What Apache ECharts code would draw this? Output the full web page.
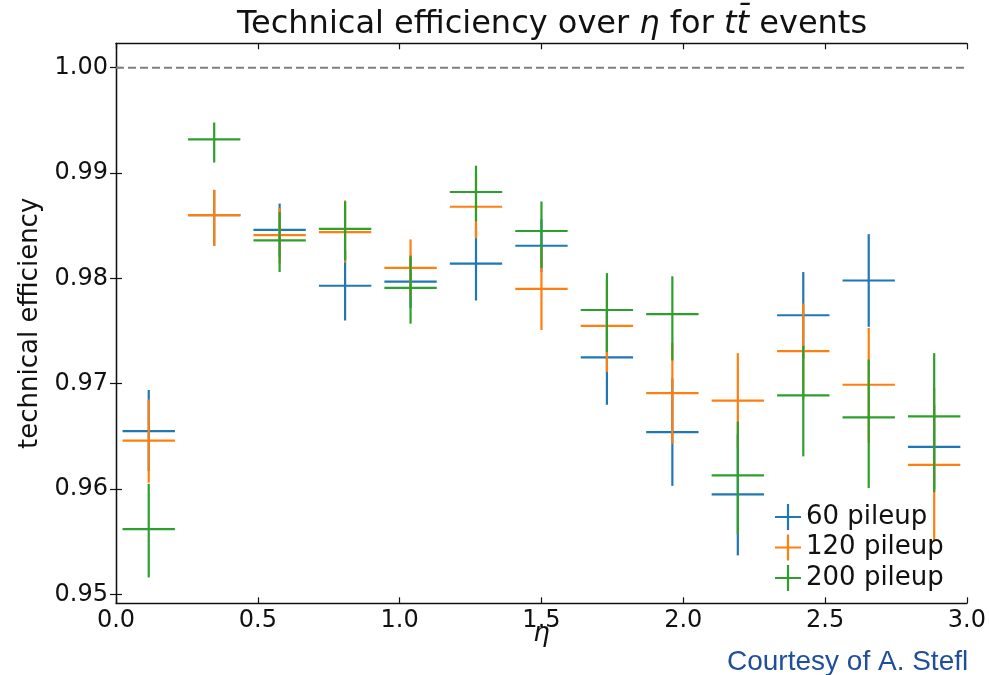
<!DOCTYPE html>
<html>
<head>
<meta charset="utf-8">
<script src="https://cdn.jsdelivr.net/npm/echarts@6/dist/echarts.min.js"></script>
<style>html,body{margin:0;padding:0;background:#fff}#c{width:989px;height:675px}</style>
</head>
<body>
<div id="c"></div>
<script>
// ---- data ----
const etaCenters = [0.1154, 0.3462, 0.5769, 0.8077, 1.0385, 1.2692, 1.5, 1.7308, 1.9615, 2.1923, 2.4231, 2.6538, 2.8846];
const etaHalfWidth = 0.0923;

const pu60 = [0.9655, 0.9860, 0.9846, 0.9793, 0.9797, 0.9814, 0.9831, 0.9725, 0.9654, 0.9595, 0.9765, 0.9798, 0.9640];
const pu60Upper = [0.9694, 0.9884, 0.9871, 0.9826, 0.9822, 0.9849, 0.9856, 0.9770, 0.9705, 0.9652, 0.9806, 0.9842, 0.9680];
const pu60Lower = [0.9617, 0.9831, 0.9820, 0.9760, 0.9772, 0.9779, 0.9806, 0.9680, 0.9603, 0.9537, 0.9724, 0.9754, 0.9600];

const pu120 = [0.9646, 0.9860, 0.9841, 0.9844, 0.9810, 0.9868, 0.9790, 0.9755, 0.9691, 0.9684, 0.9731, 0.9699, 0.9623];
const pu120Upper = [0.9685, 0.9884, 0.9867, 0.9874, 0.9837, 0.9899, 0.9829, 0.9798, 0.9739, 0.9729, 0.9776, 0.9753, 0.9696];
const pu120Lower = [0.9606, 0.9831, 0.9814, 0.9815, 0.9782, 0.9838, 0.9751, 0.9711, 0.9643, 0.9639, 0.9685, 0.9644, 0.9550];

const pu200 = [0.9562, 0.9932, 0.9836, 0.9847, 0.9791, 0.9882, 0.9845, 0.9770, 0.9766, 0.9613, 0.9689, 0.9668, 0.9669];
const pu200Upper = [0.9605, 0.9948, 0.9863, 0.9873, 0.9821, 0.9907, 0.9873, 0.9805, 0.9802, 0.9664, 0.9736, 0.9723, 0.9729];
const pu200Lower = [0.9516, 0.9910, 0.9806, 0.9817, 0.9757, 0.9854, 0.9810, 0.9730, 0.9722, 0.9557, 0.9631, 0.9601, 0.9597];

const seriesNames = ['60 pileup', '120 pileup', '200 pileup'];
const yTicks = [0.95, 0.96, 0.97, 0.98, 0.99, 1.00];
const referenceLevel = 1.00;

// ---- chart ----
const FONT = 'DejaVu Sans';
const colors = ['#1f77b4', '#ff7f0e', '#2ca02c'];
const chart = echarts.init(document.getElementById('c'), null, {renderer: 'canvas'});

function rows(vals, lo, hi) {
  return etaCenters.map((x, i) => [x, vals[i], lo[i], hi[i]]);
}

function errRender(color) {
  return function (params, api) {
    const x = api.value(0), y = api.value(1), lo = api.value(2), hi = api.value(3);
    const pc = api.coord([x, y]);
    const pl = api.coord([x - etaHalfWidth, y]);
    const pr = api.coord([x + etaHalfWidth, y]);
    const pt = api.coord([x, hi]);
    const pb = api.coord([x, lo]);
    const st = {stroke: color, lineWidth: 2.2, fill: null};
    return {
      type: 'group',
      children: [
        {type: 'line', shape: {x1: pl[0], y1: pc[1], x2: pr[0], y2: pc[1]}, style: st},
        {type: 'line', shape: {x1: pc[0], y1: pt[1], x2: pc[0], y2: pb[1]}, style: st}
      ]
    };
  };
}

const datasets = [
  rows(pu60, pu60Lower, pu60Upper),
  rows(pu120, pu120Lower, pu120Upper),
  rows(pu200, pu200Lower, pu200Upper)
];

const plusIcon = 'path://M0,11.9H26V14.1H0Z M11.9,0H14.1V26H11.9Z';

const axisLineStyle = {color: '#111', width: 1.3};

const option = {
  animation: false,
  backgroundColor: '#fff',
  title: [
    {
      text: '{n|Technical efficiency over }{i|η}{n| for }{i|tt\u0304}{n| events}',
      left: 547, top: 4, textAlign: 'center',
      textStyle: {
        fontWeight: 'normal',
        rich: {
          n: {fontFamily: FONT, fontSize: 32, fontWeight: 'normal', color: '#111'},
          i: {fontFamily: FONT, fontSize: 32, fontWeight: 'normal', color: '#111', fontStyle: 'italic'}
        }
      }
    },
    {
      text: 'Courtesy of A. Stefl',
      left: 722, top: 643,
      textStyle: {fontFamily: 'Liberation Sans', fontSize: 28, fontWeight: 'normal', color: '#1f4e9a'}
    }
  ],
  legend: {
    orient: 'vertical',
    left: 775, top: 504,
    itemWidth: 26, itemHeight: 26, itemGap: 4.5,
    padding: 0,
    textStyle: {fontFamily: FONT, fontSize: 26, color: '#111', lineHeight: 26},
    data: seriesNames.map((n, i) => ({name: n, icon: plusIcon, itemStyle: {color: colors[i]}}))
  },
  grid: {left: 116, right: 21.7, top: 43.3, bottom: 71.7, containLabel: false},
  xAxis: [
    {
      type: 'value', min: 0, max: 3, interval: 0.5,
      name: 'η', nameLocation: 'middle', nameGap: 18, nameMoveOverlap: false,
      nameTextStyle: {fontFamily: FONT, fontSize: 26, fontStyle: 'italic', color: '#111', verticalAlign: 'top'},
      axisLine: {show: true, lineStyle: axisLineStyle},
      axisTick: {show: true, inside: true, length: 6, lineStyle: {color: '#111', width: 1.2}},
      axisLabel: {fontFamily: FONT, fontSize: 24, color: '#111', margin: 5, formatter: v => v.toFixed(1)},
      splitLine: {show: false}
    },
    {
      type: 'value', min: 0, max: 3, interval: 0.5, position: 'top',
      axisLine: {show: true, lineStyle: axisLineStyle},
      axisTick: {show: true, inside: true, length: 6, lineStyle: {color: '#111', width: 1.2}},
      axisLabel: {show: false},
      splitLine: {show: false}
    }
  ],
  yAxis: [
    {
      type: 'value', min: 0.94915, max: 1.00232,
      name: 'technical efficiency', nameLocation: 'middle', nameGap: 73, nameRotate: 90,
      nameTextStyle: {fontFamily: FONT, fontSize: 26, color: '#111'},
      axisLine: {show: true, lineStyle: axisLineStyle},
      axisTick: {show: true, inside: true, length: 6, customValues: yTicks, lineStyle: {color: '#111', width: 1.2}},
      axisLabel: {fontFamily: FONT, fontSize: 24, color: '#111', margin: 8, customValues: yTicks, formatter: v => v.toFixed(2)},
      splitLine: {show: false}
    },
    {
      type: 'value', min: 0.94915, max: 1.00232, position: 'right',
      axisLine: {show: true, lineStyle: axisLineStyle},
      axisTick: {show: true, inside: true, length: 6, customValues: yTicks, lineStyle: {color: '#111', width: 1.2}},
      axisLabel: {show: false},
      splitLine: {show: false}
    }
  ],
  series: [
    {
      type: 'line', name: 'ref', silent: true, symbol: 'none',
      data: [[0, referenceLevel], [3, referenceLevel]],
      lineStyle: {color: '#7f7f7f', width: 2, type: [8, 4]}, z: 1
    }
  ].concat(seriesNames.map((n, i) => ({
    type: 'custom', name: n,
    renderItem: errRender(colors[i]),
    itemStyle: {color: colors[i]},
    encode: {x: 0, y: [1, 2, 3]},
    data: datasets[i],
    z: 2
  })))
};

chart.setOption(option);
</script>
</body>
</html>
